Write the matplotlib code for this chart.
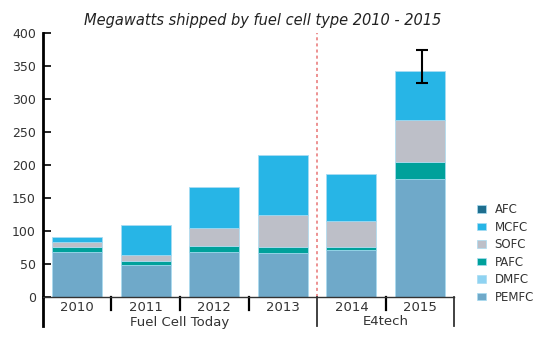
import matplotlib.pyplot as plt
import numpy as np

years = ['2010', '2011', '2012', '2013', '2014', '2015']
pemfc = [69, 49, 68, 67, 72, 179]
dmfc = [0, 0, 0, 0, 0, 0]
pafc = [7, 5, 10, 9, 4, 25]
sofc = [7, 10, 27, 48, 39, 64]
mcfc = [8, 45, 62, 91, 71, 74]
afc = [0, 0, 0, 0, 0, 0]
err_range_2015 = [325, 375]
sources = ['Fuel Cell Today', 'E4tech']

series = [('PEMFC', pemfc, '#6fa9c9'),
          ('DMFC', dmfc, '#8fd3f2'),
          ('PAFC', pafc, '#00a19b'),
          ('SOFC', sofc, '#bdbfc8'),
          ('MCFC', mcfc, '#27b5e6'),
          ('AFC', afc, '#1e6e8e')]

fig = plt.figure(figsize=(5.5, 3.38), dpi=100)
ax = fig.add_axes([0.078, 0.121, 0.748, 0.781])

x = np.arange(len(years))
bottom = np.zeros(len(years))
handles = []
for name, vals, col in series:
    b = ax.bar(x, vals, 0.73, bottom=bottom, color=col, label=name,
               edgecolor='#a8dcf2', linewidth=0.5)
    handles.append(b)
    bottom += np.array(vals)

# error bar on 2015
mid = (err_range_2015[0] + err_range_2015[1]) / 2
half = (err_range_2015[1] - err_range_2015[0]) / 2
ax.errorbar(x[-1] + 0.03, mid, yerr=half, color='black', capsize=4.5,
            lw=1.5, capthick=1.5)

# red dashed divider between sources
ax.axvline(3.5, ymin=0, ymax=1, color='#e87474', lw=1.1, ls=(0, (2, 2)))

ax.set_xlim(-0.5, 5.5)
ax.set_ylim(0, 400)
ax.set_yticks(range(0, 401, 50))
ax.set_xticks(x)
ax.set_xticklabels(years, fontsize=9.5, color='#333333')
ax.tick_params(axis='x', length=0, pad=3)
ax.tick_params(axis='y', direction='in', length=6, width=1.2, labelsize=9,
               labelcolor='#333333', pad=5)

for s in ['top', 'right']:
    ax.spines[s].set_visible(False)
ax.spines['left'].set_linewidth(2)
ax.spines['bottom'].set_linewidth(1)
ax.spines['bottom'].set_color('#333333')

tr = ax.get_xaxis_transform()
# small separators between years
for xs in [0.5, 1.5, 2.5, 4.5]:
    ax.plot([xs, xs], [0, -0.05], transform=tr, color='black', lw=1.6, clip_on=False)
# group separators
ax.plot([-0.5, -0.5], [0, -0.108], transform=tr, color='black', lw=2, clip_on=False)
for xs in [3.5, 5.5]:
    ax.plot([xs, xs], [0, -0.108], transform=tr, color='#333333', lw=1.3, clip_on=False)

ax.text(1.5, -0.095, sources[0], transform=tr, ha='center', va='center',
        fontsize=9.5, color='#333333')
ax.text(4.5, -0.092, sources[1], transform=tr, ha='center', va='center',
        fontsize=9.5, color='#333333')

fig.text(0.477, 0.94, 'Megawatts shipped by fuel cell type 2010 - 2015',
         ha='center', va='center', fontsize=10.5, style='italic', color='#222222')

fig.legend(handles[::-1], [s[0] for s in series][::-1], loc='upper left',
           bbox_to_anchor=(0.848, 0.43), frameon=False, fontsize=8.5,
           labelspacing=0.38, handlelength=0.8, handleheight=0.6,
           handletextpad=0.7, labelcolor='#333333')

fig.savefig('out.png', dpi=100)
